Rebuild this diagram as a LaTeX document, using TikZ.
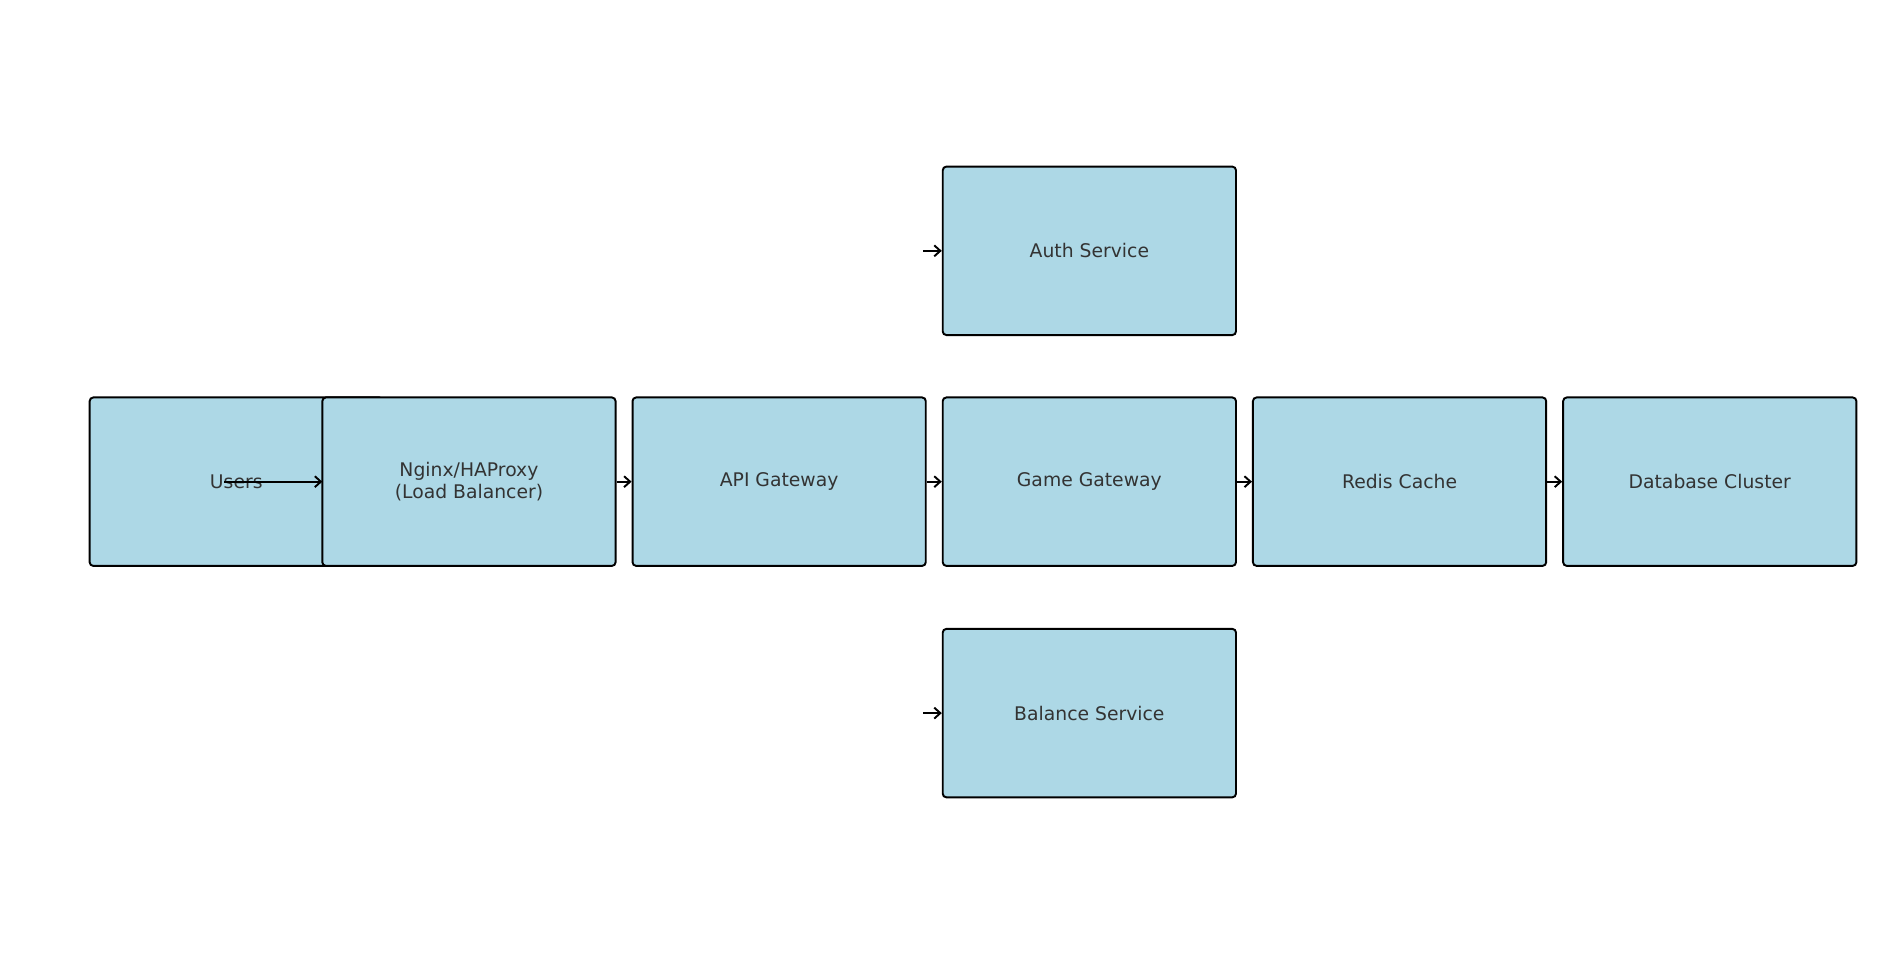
\documentclass[tikz,border=0pt]{standalone}
\usepackage{fontspec}
\setmainfont{DejaVu Sans}
\usetikzlibrary{arrows.meta}
\definecolor{lb}{HTML}{ADD8E6}
\definecolor{tx}{HTML}{333333}
\begin{document}
\begin{tikzpicture}[x=1pt,y=-1pt,
 box/.style={draw=black,fill=lb,line width=1.6pt,rounded corners=3pt,minimum width=242pt,minimum height=139pt,inner sep=0pt,text=tx,font=\fontsize{15.5}{18}\selectfont,align=center},
 arr/.style={-{Straight Barb[length=5pt,width=9pt]},line width=1.6pt}]
\useasboundingbox (0,0) rectangle (1568,795.5);
\node[box] (users) at (195,397.5) {Users};
\coordinate (us) at (185,397.5);
\draw[arr] (us) -- (266,397.5);
\node[box] (nginx) at (387,397.5) {Nginx/HAProxy\\(Load Balancer)};
\node[box] (api) at (643,397.5) {API Gateway};
\node[box] (game) at (899,397.5) {Game Gateway};
\node[box] (redis) at (1155,397.5) {Redis Cache};
\node[box] (db) at (1411,397.5) {Database Cluster};
\node[box] (auth) at (899,207) {Auth Service};
\node[box] (bal) at (899,588.5) {Balance Service};
\draw[arr] (nginx.east) -- (api.west);
\draw[arr] (api.east) -- (game.west);
\draw[arr] (game.east) -- (redis.west);
\draw[arr] (redis.east) -- (db.west);
\coordinate (as) at (762,207);
\coordinate (bs) at (762,588.5);
\draw[arr] (as) -- (auth.west);
\draw[arr] (bs) -- (bal.west);
\end{tikzpicture}
\end{document}
